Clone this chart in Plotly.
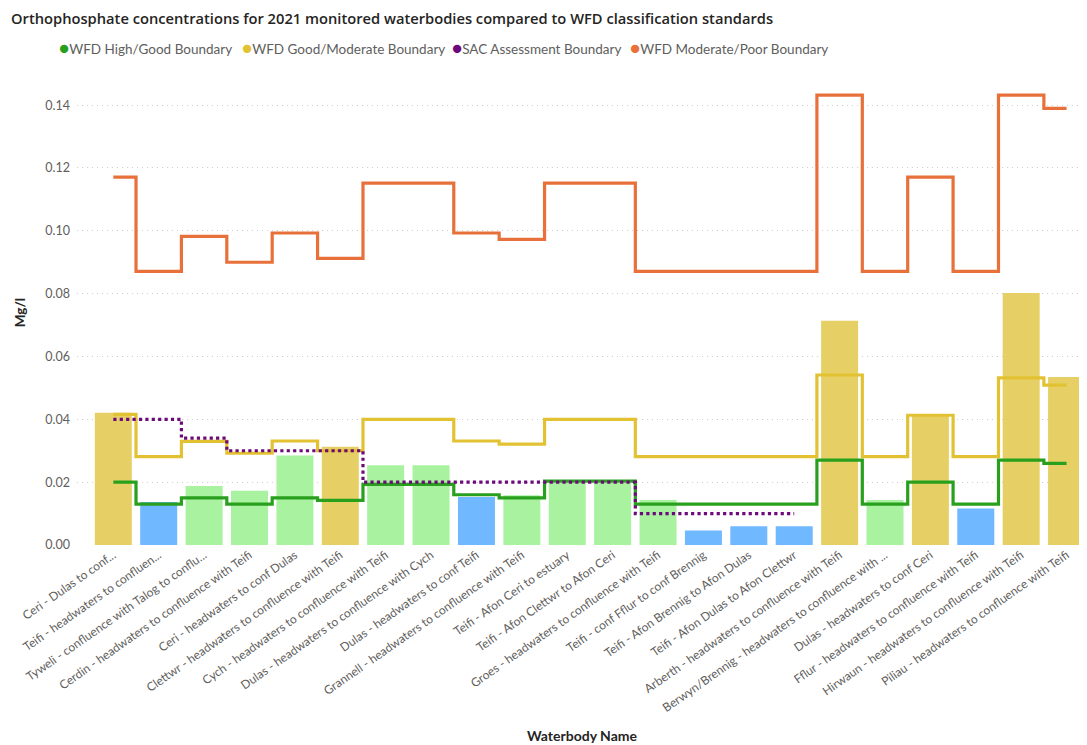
import plotly.graph_objects as go

# Waterbodies (x categories)
waterbodies = [
    "Ceri - Dulas to conf...",
    "Teifi - headwaters to confluen...",
    "Tyweli - confluence with Talog to conflu...",
    "Cerdin - headwaters to confluence with Teifi",
    "Ceri - headwaters to conf Dulas",
    "Clettwr - headwaters to confluence with Teifi",
    "Cych - headwaters to confluence with Teifi",
    "Dulas - headwaters to confluence with Cych",
    "Dulas - headwaters to conf Teifi",
    "Grannell - headwaters to confluence with Teifi",
    "Teifi - Afon Ceri to estuary",
    "Teifi - Afon Clettwr to Afon Ceri",
    "Groes - headwaters to confluence with Teifi",
    "Teifi - conf Fflur to conf Brennig",
    "Teifi - Afon Brennig to Afon Dulas",
    "Teifi - Afon Dulas to Afon Clettwr",
    "Arberth - headwaters to confluence with Teifi",
    "Berwyn/Brennig - headwaters to confluence with ...",
    "Dulas - headwaters to conf Ceri",
    "Fflur - headwaters to confluence with Teifi",
    "Hirwaun - headwaters to confluence with Teifi",
    "Piliau - headwaters to confluence with Teifi",
]

# Measured orthophosphate (mg/l)
concentration = [0.0421, 0.0137, 0.0188, 0.0173, 0.0285, 0.0313, 0.0254, 0.0254,
                 0.0153, 0.0158, 0.0197, 0.0197, 0.0143, 0.0046, 0.0060, 0.0060,
                 0.0714, 0.0143, 0.0413, 0.0116, 0.0802, 0.0535]
status = ["Moderate", "High", "Good", "Good", "Good", "Moderate", "Good", "Good",
          "High", "Good", "Good", "Good", "Good", "High", "High", "High",
          "Moderate", "Good", "Moderate", "High", "Moderate", "Moderate"]

# Boundaries (mg/l)
high_good = [0.020, 0.013, 0.015, 0.013, 0.015, 0.0142, 0.0193, 0.0193,
             0.016, 0.015, 0.0203, 0.0203, 0.013, 0.013, 0.013, 0.013,
             0.027, 0.013, 0.020, 0.013, 0.027, 0.026]
good_moderate = [0.0416, 0.0281, 0.033, 0.0292, 0.0331, 0.030, 0.040, 0.040,
                 0.0331, 0.0321, 0.040, 0.040, 0.0281, 0.0281, 0.0281, 0.0281,
                 0.0541, 0.0281, 0.0413, 0.0281, 0.0532, 0.0509]
sac_boundary = [0.040, 0.040, 0.034, 0.030, 0.030, 0.030, 0.020, 0.020,
                0.020, 0.020, 0.020, 0.020, 0.010, 0.010, 0.010, 0.010,
                None, None, None, None, None, None]
moderate_poor = [0.1171, 0.0871, 0.0982, 0.090, 0.0993, 0.0912, 0.1152, 0.1152,
                 0.0993, 0.0973, 0.1152, 0.1152, 0.0871, 0.0871, 0.0871, 0.0871,
                 0.1432, 0.0871, 0.1171, 0.0871, 0.1432, 0.139]

BAR_COLORS = {"Moderate": "#E6D066", "Good": "#A8F2A0", "High": "#70B8FF"}
LINES = [
    ("WFD High/Good Boundary", high_good, "#28A01E", "solid"),
    ("WFD Good/Moderate Boundary", good_moderate, "#E2C232", "solid"),
    ("SAC Assessment Boundary", sac_boundary, "#6B0A78", "dot"),
    ("WFD Moderate/Poor Boundary", moderate_poor, "#E8703A", "solid"),
]
FONT = "Lato, sans-serif"

# page body adds an 8px offset, so the figure is drawn 8px smaller
W, H = 1079, 737
ML, MT, MB = 69, 72, 200
PW = W - ML

fig = go.Figure()

fig.add_trace(go.Bar(
    x=waterbodies, y=concentration, showlegend=False,
    marker=dict(color=[BAR_COLORS[s] for s in status], line=dict(width=0)),
))

for name, vals, color, dash in LINES:
    fig.add_trace(go.Scatter(
        x=waterbodies, y=vals, mode="lines", name=name, showlegend=False,
        line=dict(color=color, width=3.2, dash=dash, shape="hvh"),
        connectgaps=False,
    ))

# Power BI style legend: dot + label, packed tight
legend_left_px = [49, 232, 442, 620]
for (name, vals, color, dash), lx in zip(LINES, legend_left_px):
    fig.add_annotation(
        text=f"<span style='color:{color};font-size:17px'>●</span>{name}",
        xref="paper", yref="paper", x=(lx - ML) / PW, xanchor="left",
        y=1 + (MT - 40) / (H - MT - MB), yanchor="middle", showarrow=False,
        font=dict(family=FONT, size=13.5, color="#605E5C"),
    )

fig.update_layout(
    width=W, height=H,
    title=dict(
        text="Orthophosphate concentrations for 2021 monitored waterbodies compared to WFD classification standards",
        x=3 / W, xanchor="left", y=1 - 11 / H, yanchor="middle",
        font=dict(family="Open Sans, sans-serif", size=14.7, color="#252423", weight=600),
    ),
    showlegend=False,
    bargap=0.185,
    margin=dict(l=ML, r=0, t=MT, b=MB, autoexpand=False),
    plot_bgcolor="white", paper_bgcolor="white",
    font=dict(family=FONT, color="#605E5C"),
)

fig.update_xaxes(
    range=[-0.8, 21.45], tickangle=-35, showgrid=False, showline=False, zeroline=False,
    tickfont=dict(size=12, color="#605E5C"), ticks="", automargin=False,
    title=dict(text="Waterbody Name", standoff=17,
               font=dict(family=FONT, size=14, color="#252423", weight=700)),
)
fig.update_yaxes(
    range=[0, 0.148], dtick=0.02, tickformat=".2f", zeroline=False, showline=False,
    showgrid=True, gridcolor="#CFCFCF", griddash="1px,4px", gridwidth=1,
    tickfont=dict(size=12.5, color="#605E5C"), automargin=False, ticklabelstandoff=6,
    title=dict(text="Mg/l", standoff=16,
               font=dict(family=FONT, size=13.5, color="#252423", weight=700)),
)

fig.write_html("out.html")
